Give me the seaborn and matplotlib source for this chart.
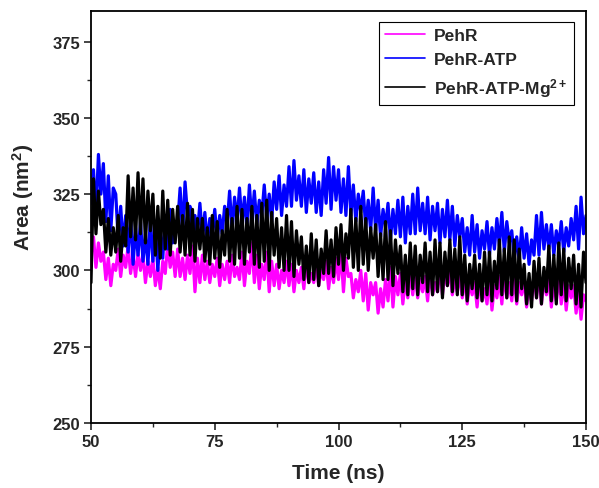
import numpy as np
import pandas as pd
import matplotlib
matplotlib.use("Agg")
import matplotlib.pyplot as plt
from matplotlib.ticker import MultipleLocator
import seaborn as sns

# time axis (ns), 0.5 ns sampling
time_ns = [50 + 0.5 * i for i in range(201)]

pehr = [
    305, 311, 301, 309, 303, 306, 297, 304, 295, 302,
    300, 307, 298, 305, 301, 308, 299, 305, 298, 306,
    300, 305, 296, 303, 298, 304, 295, 301, 294, 303,
    299, 309, 301, 306, 298, 307, 298, 304, 297, 305,
    299, 308, 293, 304, 296, 305, 297, 303, 296, 302,
    298, 304, 295, 302, 297, 303, 296, 305, 298, 301,
    297, 306, 295, 303, 299, 309, 296, 305, 294, 302,
    297, 306, 293, 303, 295, 302, 294, 300, 296, 303,
    295, 302, 293, 300, 296, 301, 294, 303, 296, 299,
    296, 302, 295, 300, 297, 303, 294, 301, 296, 304,
    297, 306, 293, 304, 298, 299, 291, 297, 293, 300,
    290, 299, 287, 296, 292, 296, 286, 294, 288, 297,
    290, 301, 288, 298, 292, 299, 289, 297, 291, 300,
    292, 299, 291, 297, 293, 298, 290, 300, 292, 296,
    293, 301, 292, 299, 295, 300, 292, 297, 293, 299,
    291, 298, 289, 296, 292, 296, 288, 297, 290, 294,
    289, 298, 287, 295, 291, 298, 289, 299, 291, 296,
    290, 298, 289, 296, 292, 297, 288, 295, 290, 298,
    291, 299, 289, 297, 292, 298, 288, 296, 290, 299,
    289, 297, 287, 295, 291, 295, 286, 293, 284, 292,
    290,
]

pehr_atp = [
    322, 333, 318, 338, 325, 335, 316, 331, 313, 327,
    325, 310, 321, 308, 318, 306, 318, 302, 314, 305,
    316, 303, 312, 302, 317, 303, 315, 300, 312, 304,
    318, 307, 320, 309, 315, 315, 327, 312, 329, 318,
    321, 310, 318, 312, 322, 311, 319, 309, 317, 312,
    320, 310, 318, 312, 321, 315, 326, 313, 324, 316,
    327, 315, 324, 314, 328, 316, 326, 315, 323, 318,
    328, 317, 325, 316, 329, 320, 331, 318, 328, 321,
    334, 321, 336, 323, 331, 321, 333, 319, 330, 322,
    332, 319, 329, 318, 333, 322, 337, 320, 334, 323,
    333, 319, 330, 318, 334, 318, 328, 316, 325, 319,
    326, 314, 323, 313, 327, 313, 323, 311, 320, 314,
    322, 310, 320, 312, 323, 311, 324, 309, 321, 312,
    325, 312, 327, 313, 322, 312, 324, 310, 321, 313,
    322, 309, 320, 311, 323, 310, 321, 308, 318, 311,
    317, 306, 314, 305, 318, 306, 315, 304, 313, 307,
    316, 305, 314, 307, 317, 308, 319, 306, 316, 309,
    313, 304, 311, 303, 314, 304, 312, 302, 310, 305,
    318, 305, 319, 307, 315, 307, 315, 305, 313, 308,
    316, 306, 314, 308, 317, 310, 321, 307, 324, 312,
    318,
]

pehr_atp_mg = [
    296, 330, 312, 326, 315, 320, 306, 317, 305, 314,
    306, 318, 303, 314, 308, 331, 311, 327, 310, 332,
    312, 330, 309, 326, 313, 325, 305, 321, 304, 326,
    307, 323, 305, 320, 309, 321, 306, 318, 305, 322,
    305, 320, 303, 317, 307, 317, 303, 314, 302, 318,
    304, 316, 301, 313, 305, 320, 303, 317, 302, 321,
    304, 320, 302, 317, 306, 321, 302, 318, 301, 322,
    303, 323, 300, 319, 305, 317, 301, 314, 300, 318,
    300, 316, 298, 313, 302, 311, 297, 308, 296, 312,
    297, 310, 295, 307, 299, 313, 299, 310, 298, 314,
    302, 315, 300, 312, 304, 320, 301, 317, 300, 321,
    302, 317, 300, 314, 304, 315, 298, 312, 297, 316,
    297, 313, 295, 310, 299, 308, 293, 305, 292, 309,
    294, 308, 292, 305, 296, 309, 293, 306, 292, 310,
    293, 309, 291, 306, 295, 310, 293, 307, 292, 311,
    292, 305, 290, 302, 294, 305, 291, 302, 290, 306,
    292, 306, 290, 303, 294, 310, 292, 307, 291, 311,
    292, 310, 290, 307, 294, 302, 289, 299, 288, 303,
    291, 304, 289, 301, 293, 308, 290, 305, 289, 309,
    292, 307, 290, 304, 294, 305, 289, 302, 288, 306,
    296,
]

labels = ["PehR", "PehR-ATP", "PehR-ATP-Mg$^{2+}$"]
colors = ["#ff00ff", "#0000ff", "#000000"]
x_ticks = [50, 75, 100, 125, 150]
y_ticks = [250, 275, 300, 325, 350, 375]

df = pd.concat([
    pd.DataFrame({"Time": time_ns, "Area": vals, "System": lab})
    for vals, lab in zip([pehr, pehr_atp, pehr_atp_mg], labels)
], ignore_index=True)

sns.set_style("ticks")
plt.rcParams["font.family"] = ["Liberation Sans", "DejaVu Sans"]
plt.rcParams["font.weight"] = "bold"
plt.rcParams["mathtext.fontset"] = "custom"
plt.rcParams["mathtext.rm"] = "Liberation Sans:bold"
plt.rcParams["mathtext.bf"] = "Liberation Sans:bold"
plt.rcParams["mathtext.it"] = "Liberation Sans:bold"
plt.rcParams["mathtext.default"] = "bf"

fig = plt.figure(figsize=(5.99, 4.89), dpi=100)
ax = fig.add_axes([91 / 599, 1 - 424 / 489, (586 - 91) / 599, (424 - 12) / 489])

sns.lineplot(data=df, x="Time", y="Area", hue="System", hue_order=labels,
             palette=dict(zip(labels, colors)), linewidth=2.3, ax=ax,
             estimator=None, sort=False)

ax.set_xlim(50, 150)
ax.set_ylim(250, 385)
ax.set_xticks(x_ticks)
ax.set_yticks(y_ticks)
ax.xaxis.set_minor_locator(MultipleLocator(12.5))
ax.yaxis.set_minor_locator(MultipleLocator(12.5))
ax.tick_params(which="major", direction="out", length=5, width=1.2,
               labelsize=12, top=False, right=False, pad=3)
ax.tick_params(which="minor", direction="out", length=3, width=1.0,
               top=False, right=False)
for lab in ax.get_xticklabels() + ax.get_yticklabels():
    lab.set_fontweight("bold")
for s in ax.spines.values():
    s.set_visible(True)
    s.set_linewidth(1.3)
    s.set_color("black")

ax.set_xlabel("Time (ns)", fontsize=15, fontweight="bold", labelpad=10)
ax.set_ylabel("Area (nm$^{2}$)", fontsize=15, fontweight="bold")
ax.yaxis.set_label_coords(-0.111, 0.55)

leg = ax.legend(loc="upper right", bbox_to_anchor=(0.975, 0.973),
                fontsize=12.5, frameon=True, fancybox=False,
                edgecolor="black", framealpha=1, handlelength=2.3,
                borderaxespad=0.0, labelspacing=0.5, handletextpad=0.5,
                borderpad=0.35)
leg.get_frame().set_linewidth(0.8)
for t in leg.get_texts():
    t.set_fontweight("bold")
for h in leg.get_lines():
    h.set_linewidth(1.2)

fig.savefig("out.png", dpi=100)
